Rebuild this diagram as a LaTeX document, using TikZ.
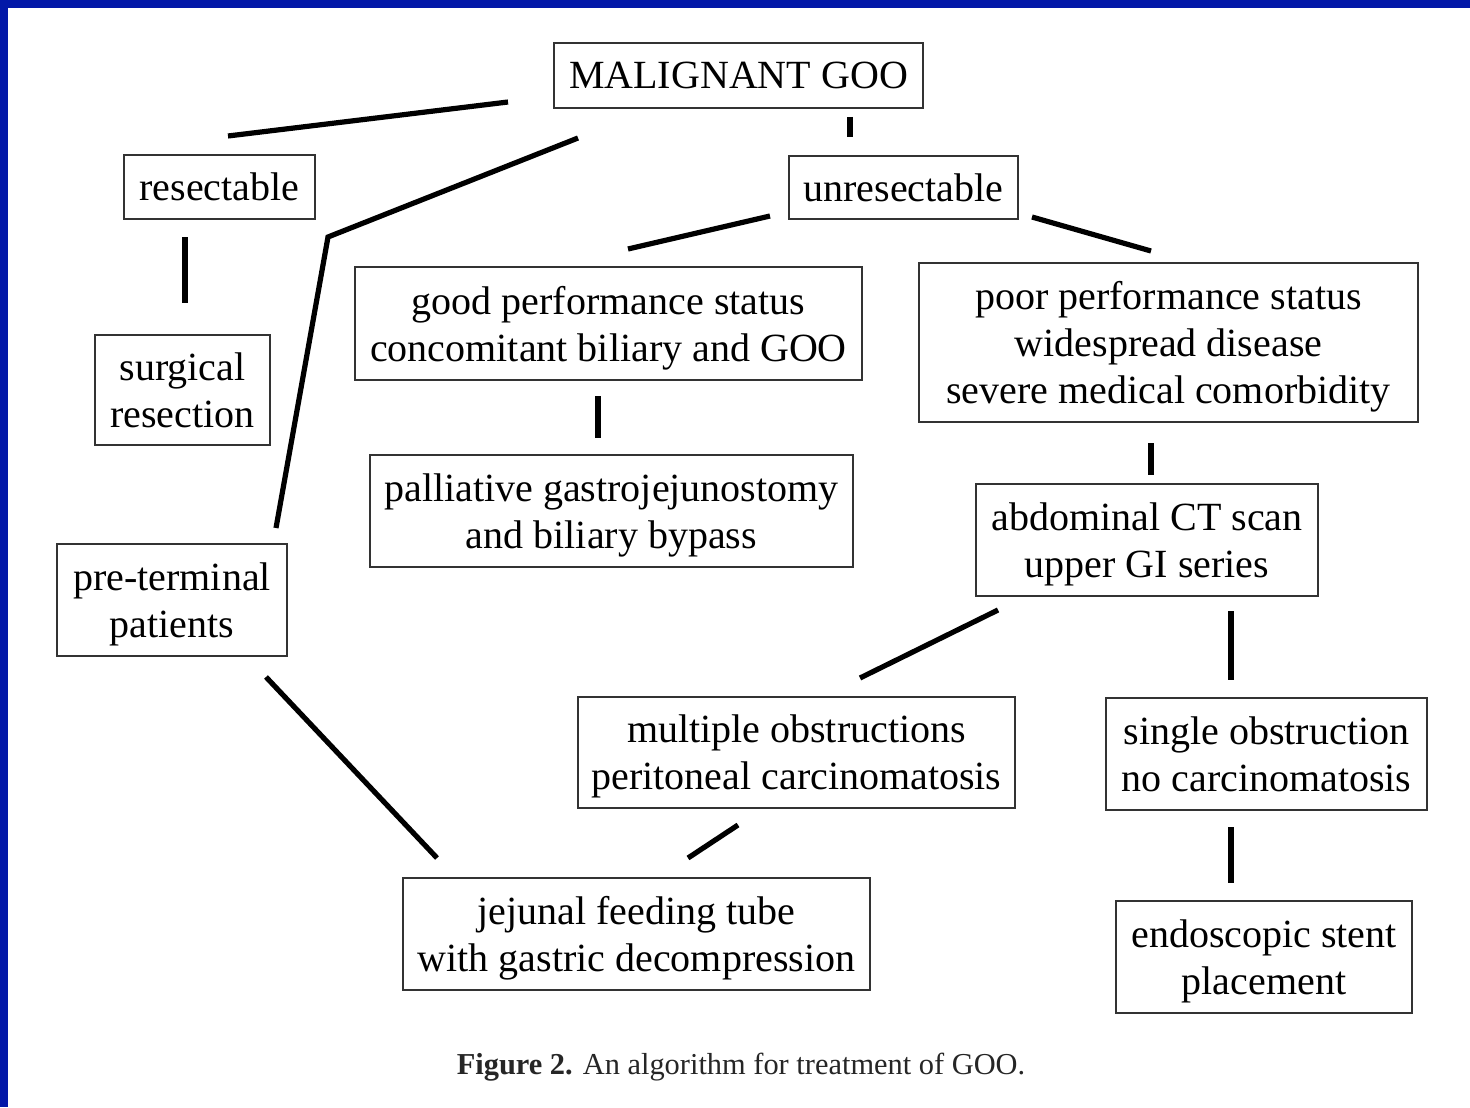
\documentclass[tikz,border=0pt]{standalone}
\usepackage{fontspec}
\setmainfont{Liberation Serif}
\definecolor{frameblue}{HTML}{0318A8}
\definecolor{boxgray}{HTML}{333333}
\begin{document}
\begin{tikzpicture}[x=0.5pt,y=-0.5pt,
  box/.style={draw=boxgray,line width=1pt,align=center,inner sep=0pt,text depth=0pt,
    font=\fontsize{20pt}{23.5pt}\selectfont},
  link/.style={line width=2.6pt,black}]
\useasboundingbox (0,0) rectangle (1470,1107);
\fill[white] (0,0) rectangle (1470,1107);
\fill[frameblue] (0,0) rectangle (1470,8);
\fill[frameblue] (0,0) rectangle (8,1107);

\node[box,minimum width=184.5pt,minimum height=32.5pt] (mal) at (738.5,75.5) {MALIGNANT GOO};
\node[box,minimum width=95.5pt,minimum height=32pt] (res) at (219.5,187) {resectable};
\node[box,minimum width=114.5pt,minimum height=31.5pt] (unres) at (903.5,187.5) {unresectable};
\node[box,minimum width=87.5pt,minimum height=55pt] (surg) at (182.5,390) {surgical\\resection};
\node[box,minimum width=253.5pt,minimum height=56.5pt] (good) at (608.5,323.5) {good performance status\\concomitant biliary and GOO};
\node[box,minimum width=249.5pt,minimum height=79.5pt] (poor) at (1168.5,342.5) {poor performance status\\widespread disease\\severe medical comorbidity};
\node[box,minimum width=241.5pt,minimum height=56pt] (pall) at (611.5,511) {palliative gastrojejunostomy\\and biliary bypass};
\node[box,minimum width=171pt,minimum height=56pt] (ct) at (1147,540) {abdominal CT scan\\upper GI series};
\node[box,minimum width=115pt,minimum height=56pt] (pre) at (172,600) {pre-terminal\\patients};
\node[box,minimum width=218.5pt,minimum height=55.5pt] (mult) at (796.5,752.5) {multiple obstructions\\peritoneal carcinomatosis};
\node[box,minimum width=160.5pt,minimum height=56pt] (single) at (1266.5,754) {single obstruction\\no carcinomatosis};
\node[box,minimum width=233.5pt,minimum height=56pt] (jej) at (636.5,934) {jejunal feeding tube\\with gastric decompression};
\node[box,minimum width=148pt,minimum height=56pt] (endo) at (1264,957) {endoscopic stent\\placement};

\node[font=\fontsize{15.2pt}{18pt}\selectfont,text=black!85] (cap) at (741,1067) {\textbf{Figure 2.} An algorithm for treatment of GOO.};

% connector ends (the lines stop short of the boxes)
\coordinate (a1) at (508,102);  \coordinate (a2) at (228,136);
\coordinate (b1) at (850,117);  \coordinate (b2) at (850,137);
\coordinate (c1) at (578,138);  \coordinate (c2) at (328,237); \coordinate (c3) at (276,528);
\coordinate (d1) at (185,237);  \coordinate (d2) at (185,303);
\coordinate (e1) at (770,216);  \coordinate (e2) at (628,249);
\coordinate (f1) at (1032,217); \coordinate (f2) at (1151,251);
\coordinate (g1) at (598,396);  \coordinate (g2) at (598,438);
\coordinate (h1) at (1151,443); \coordinate (h2) at (1151,475);
\coordinate (i1) at (998,610);  \coordinate (i2) at (860,678);
\coordinate (j1) at (1231,611); \coordinate (j2) at (1231,680);
\coordinate (k1) at (266,677);  \coordinate (k2) at (437,858);
\coordinate (l1) at (738,825);  \coordinate (l2) at (688,858);
\coordinate (m1) at (1231,827); \coordinate (m2) at (1231,883);

\draw[link] (a1) -- (a2);
\draw[link] (b1) -- (b2);
\draw[link,line join=miter] (c1) -- (c2) -- (c3);
\draw[link] (d1) -- (d2);
\draw[link] (e1) -- (e2);
\draw[link] (f1) -- (f2);
\draw[link] (g1) -- (g2);
\draw[link] (h1) -- (h2);
\draw[link] (i1) -- (i2);
\draw[link] (j1) -- (j2);
\draw[link] (k1) -- (k2);
\draw[link] (l1) -- (l2);
\draw[link] (m1) -- (m2);
\end{tikzpicture}
\end{document}
